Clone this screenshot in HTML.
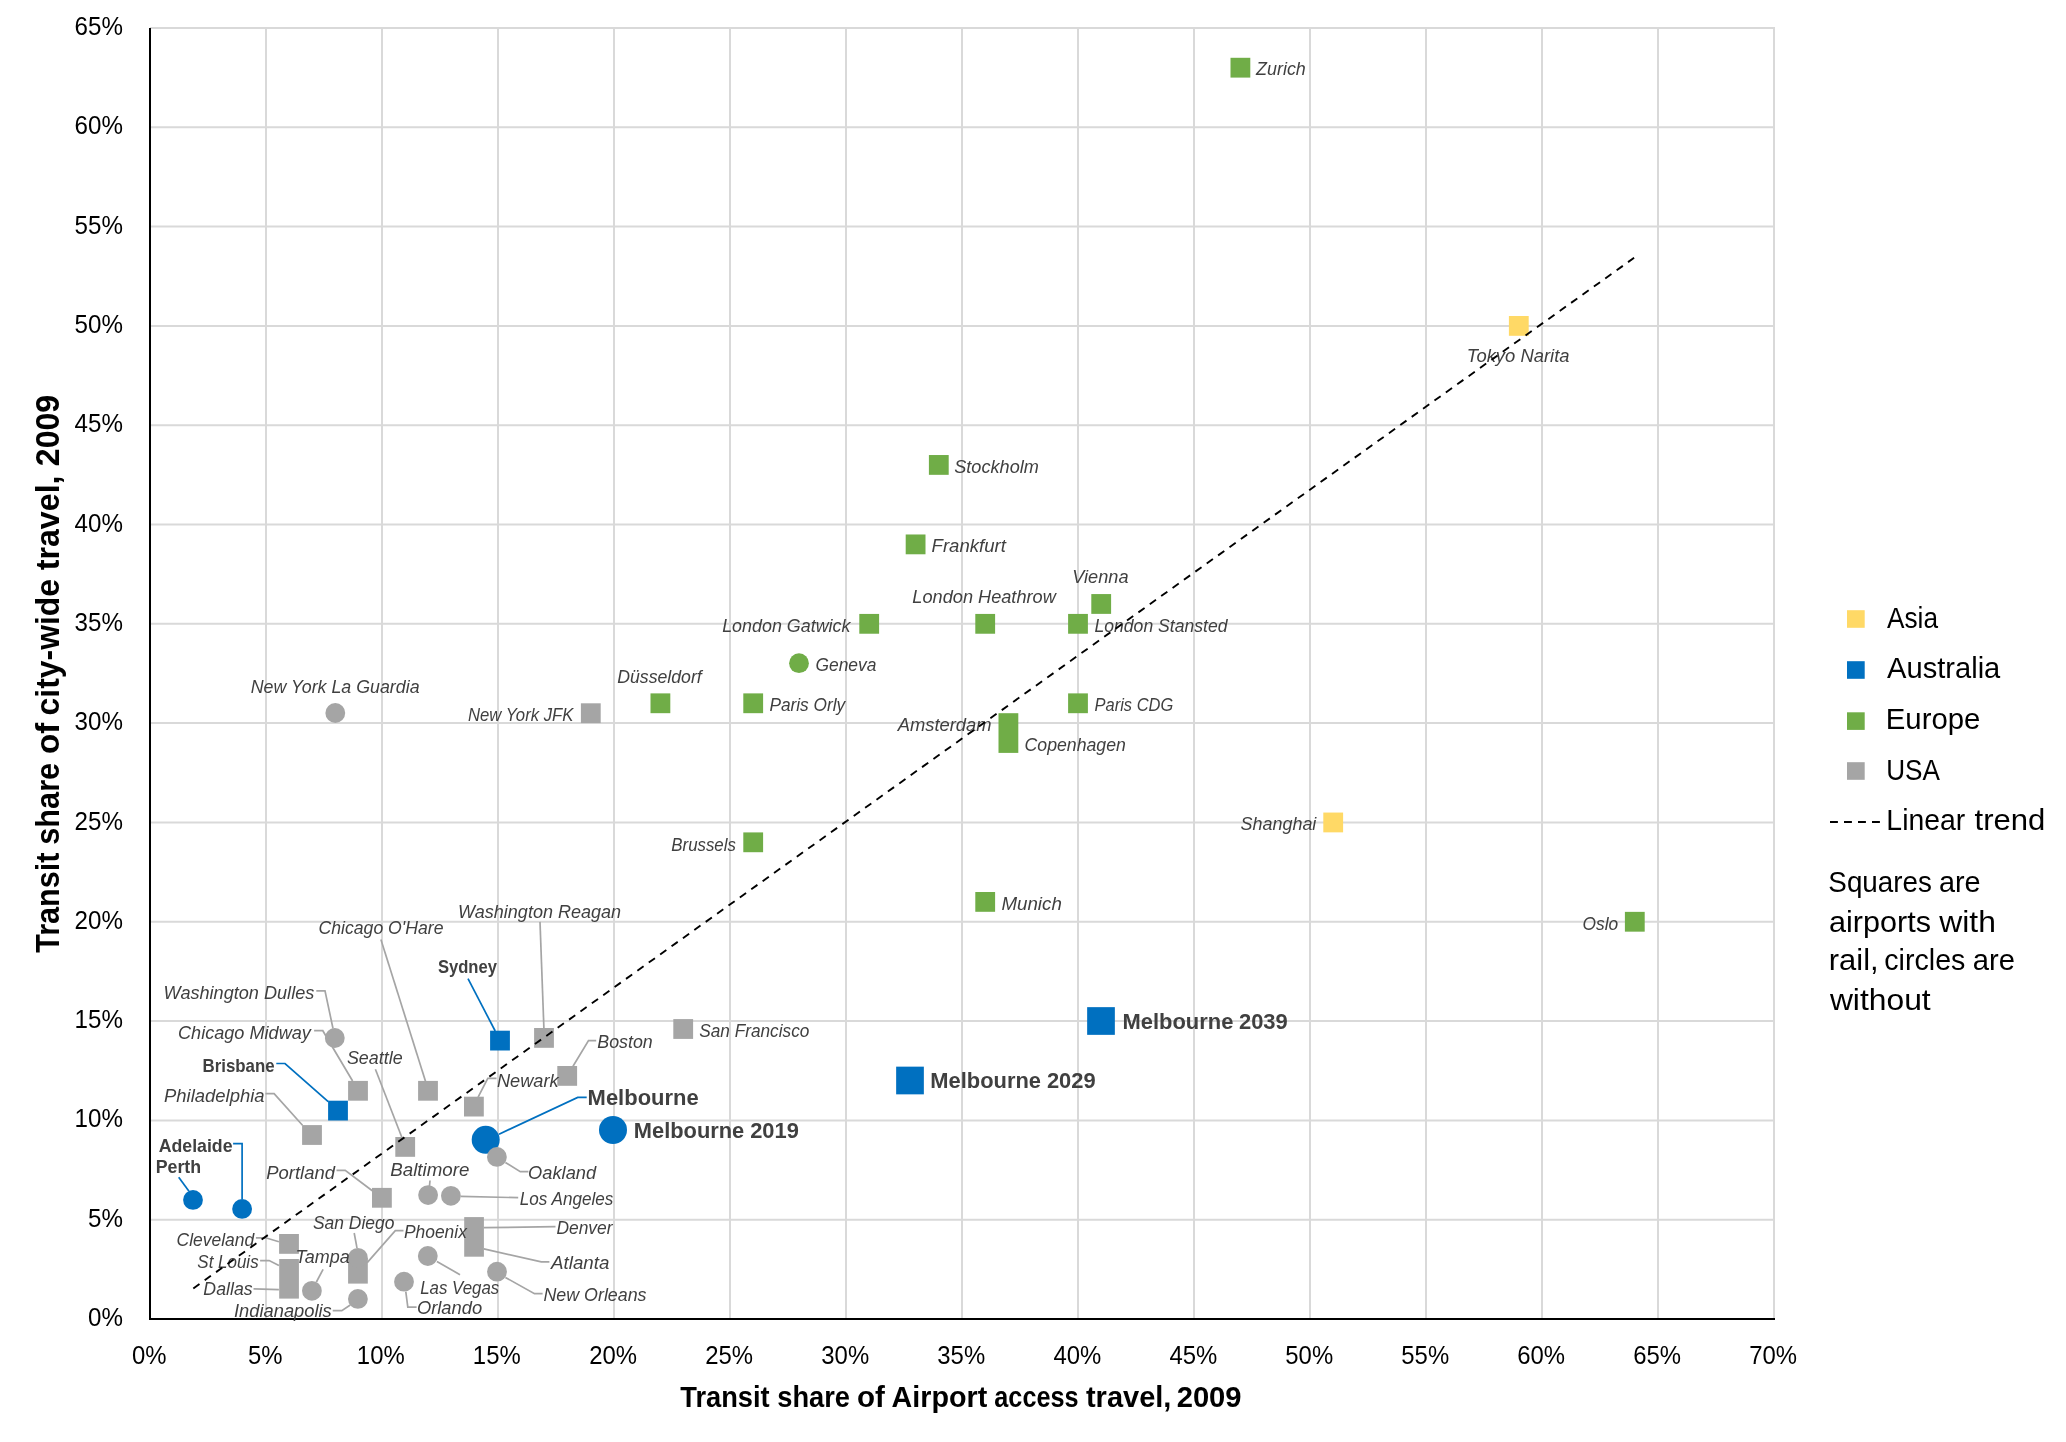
<!DOCTYPE html>
<html><head><meta charset="utf-8"><title>Airport transit share chart</title>
<style>html,body{margin:0;padding:0;background:#fff;}svg{display:block;will-change:transform;font-family:"Liberation Sans",sans-serif;}</style>
</head><body>
<svg width="2066" height="1442" viewBox="0 0 2066 1442">
<rect width="2066" height="1442" fill="#fff"/>
<path d="M266.0 27V1319 M382.0 27V1319 M498.0 27V1319 M614.0 27V1319 M730.0 27V1319 M846.0 27V1319 M962.0 27V1319 M1078.0 27V1319 M1194.0 27V1319 M1310.0 27V1319 M1426.0 27V1319 M1542.0 27V1319 M1658.0 27V1319 M1774.0 27V1319 M150 1219.7H1775 M150 1120.4H1775 M150 1021.1H1775 M150 921.8H1775 M150 822.5H1775 M150 723.1H1775 M150 623.8H1775 M150 524.5H1775 M150 425.2H1775 M150 325.9H1775 M150 226.6H1775 M150 127.3H1775 M150 28.0H1775" stroke="#D9D9D9" stroke-width="2" fill="none"/>
<path d="M150 28V1320M149 1319H1775" stroke="#000" stroke-width="2" fill="none"/>
<text transform="translate(88.01,1326.10) scale(0.9300,1)" font-size="26" fill="#000">0%</text>
<text transform="translate(88.01,1226.79) scale(0.9300,1)" font-size="26" fill="#000">5%</text>
<text transform="translate(74.53,1127.48) scale(0.9300,1)" font-size="26" fill="#000">10%</text>
<text transform="translate(74.53,1028.17) scale(0.9300,1)" font-size="26" fill="#000">15%</text>
<text transform="translate(74.53,928.86) scale(0.9300,1)" font-size="26" fill="#000">20%</text>
<text transform="translate(74.53,829.55) scale(0.9300,1)" font-size="26" fill="#000">25%</text>
<text transform="translate(74.53,730.24) scale(0.9300,1)" font-size="26" fill="#000">30%</text>
<text transform="translate(74.53,630.93) scale(0.9300,1)" font-size="26" fill="#000">35%</text>
<text transform="translate(74.53,531.62) scale(0.9300,1)" font-size="26" fill="#000">40%</text>
<text transform="translate(74.53,432.31) scale(0.9300,1)" font-size="26" fill="#000">45%</text>
<text transform="translate(74.53,333.00) scale(0.9300,1)" font-size="26" fill="#000">50%</text>
<text transform="translate(74.53,233.69) scale(0.9300,1)" font-size="26" fill="#000">55%</text>
<text transform="translate(74.53,134.38) scale(0.9300,1)" font-size="26" fill="#000">60%</text>
<text transform="translate(74.53,35.07) scale(0.9300,1)" font-size="26" fill="#000">65%</text>
<text transform="translate(131.96,1363.60) scale(0.9200,1)" font-size="26" fill="#000">0%</text>
<text transform="translate(247.96,1363.60) scale(0.9200,1)" font-size="26" fill="#000">5%</text>
<text transform="translate(356.87,1363.60) scale(0.9200,1)" font-size="26" fill="#000">10%</text>
<text transform="translate(472.87,1363.60) scale(0.9200,1)" font-size="26" fill="#000">15%</text>
<text transform="translate(589.17,1363.60) scale(0.9200,1)" font-size="26" fill="#000">20%</text>
<text transform="translate(705.17,1363.60) scale(0.9200,1)" font-size="26" fill="#000">25%</text>
<text transform="translate(821.32,1363.60) scale(0.9200,1)" font-size="26" fill="#000">30%</text>
<text transform="translate(937.32,1363.60) scale(0.9200,1)" font-size="26" fill="#000">35%</text>
<text transform="translate(1053.50,1363.60) scale(0.9200,1)" font-size="26" fill="#000">40%</text>
<text transform="translate(1169.50,1363.60) scale(0.9200,1)" font-size="26" fill="#000">45%</text>
<text transform="translate(1285.29,1363.60) scale(0.9200,1)" font-size="26" fill="#000">50%</text>
<text transform="translate(1401.29,1363.60) scale(0.9200,1)" font-size="26" fill="#000">55%</text>
<text transform="translate(1517.17,1363.60) scale(0.9200,1)" font-size="26" fill="#000">60%</text>
<text transform="translate(1633.17,1363.60) scale(0.9200,1)" font-size="26" fill="#000">65%</text>
<text transform="translate(1749.17,1363.60) scale(0.9200,1)" font-size="26" fill="#000">70%</text>
<rect x="1508.90" y="316.00" width="19.8" height="19.8" fill="#FFD966"/>
<rect x="1323.30" y="812.55" width="19.8" height="19.8" fill="#FFD966"/>
<rect x="490.10" y="1030.70" width="19.8" height="19.8" fill="#0070C0"/>
<rect x="328.10" y="1100.70" width="19.8" height="19.8" fill="#0070C0"/>
<circle cx="193.00" cy="1199.90" r="9.9" fill="#0070C0"/>
<circle cx="242.10" cy="1208.90" r="9.9" fill="#0070C0"/>
<circle cx="485.70" cy="1139.80" r="14" fill="#0070C0"/>
<circle cx="613.00" cy="1130.00" r="14" fill="#0070C0"/>
<rect x="896.15" y="1066.65" width="27.7" height="27.7" fill="#0070C0"/>
<rect x="1087.15" y="1007.15" width="27.7" height="27.7" fill="#0070C0"/>
<rect x="998.5" y="713.2" width="19.80" height="39.70" fill="#70AD47"/>
<rect x="1230.50" y="57.79" width="19.8" height="19.8" fill="#70AD47"/>
<rect x="928.90" y="455.03" width="19.8" height="19.8" fill="#70AD47"/>
<rect x="905.70" y="534.48" width="19.8" height="19.8" fill="#70AD47"/>
<rect x="1091.30" y="594.07" width="19.8" height="19.8" fill="#70AD47"/>
<rect x="975.30" y="613.93" width="19.8" height="19.8" fill="#70AD47"/>
<rect x="1068.10" y="613.93" width="19.8" height="19.8" fill="#70AD47"/>
<rect x="859.30" y="613.93" width="19.8" height="19.8" fill="#70AD47"/>
<rect x="650.50" y="693.38" width="19.8" height="19.8" fill="#70AD47"/>
<rect x="743.30" y="693.38" width="19.8" height="19.8" fill="#70AD47"/>
<rect x="1068.10" y="693.38" width="19.8" height="19.8" fill="#70AD47"/>
<rect x="743.30" y="832.41" width="19.8" height="19.8" fill="#70AD47"/>
<rect x="975.30" y="892.00" width="19.8" height="19.8" fill="#70AD47"/>
<rect x="1624.90" y="911.86" width="19.8" height="19.8" fill="#70AD47"/>
<circle cx="799.00" cy="663.20" r="9.9" fill="#70AD47"/>
<rect x="580.90" y="703.30" width="19.8" height="19.8" fill="#A5A5A5"/>
<rect x="673.30" y="1019.10" width="19.8" height="19.8" fill="#A5A5A5"/>
<rect x="534.10" y="1028.00" width="19.8" height="19.8" fill="#A5A5A5"/>
<rect x="348.10" y="1080.90" width="19.8" height="19.8" fill="#A5A5A5"/>
<rect x="418.10" y="1080.90" width="19.8" height="19.8" fill="#A5A5A5"/>
<rect x="557.30" y="1066.00" width="19.8" height="19.8" fill="#A5A5A5"/>
<rect x="464.00" y="1096.70" width="19.8" height="19.8" fill="#A5A5A5"/>
<rect x="395.30" y="1137.00" width="19.8" height="19.8" fill="#A5A5A5"/>
<rect x="302.10" y="1125.10" width="19.8" height="19.8" fill="#A5A5A5"/>
<rect x="372.00" y="1187.90" width="19.8" height="19.8" fill="#A5A5A5"/>
<rect x="279.10" y="1234.00" width="19.8" height="19.8" fill="#A5A5A5"/>
<rect x="464.2" y="1217.1" width="19.70" height="39.60" fill="#A5A5A5"/>
<rect x="279.2" y="1259" width="19.70" height="39.60" fill="#A5A5A5"/>
<rect x="348.1" y="1258" width="19.70" height="25.60" fill="#A5A5A5"/>
<circle cx="335.30" cy="713.00" r="9.9" fill="#A5A5A5"/>
<circle cx="334.80" cy="1038.00" r="9.9" fill="#A5A5A5"/>
<circle cx="496.90" cy="1156.90" r="9.9" fill="#A5A5A5"/>
<circle cx="428.10" cy="1195.10" r="9.9" fill="#A5A5A5"/>
<circle cx="450.90" cy="1195.80" r="9.9" fill="#A5A5A5"/>
<circle cx="427.80" cy="1256.00" r="9.9" fill="#A5A5A5"/>
<circle cx="404.00" cy="1281.70" r="9.9" fill="#A5A5A5"/>
<circle cx="497.00" cy="1271.70" r="9.9" fill="#A5A5A5"/>
<circle cx="311.90" cy="1290.80" r="9.9" fill="#A5A5A5"/>
<circle cx="357.90" cy="1257.80" r="9.9" fill="#A5A5A5"/>
<circle cx="357.90" cy="1298.90" r="9.9" fill="#A5A5A5"/>
<path d="M316.3 990.8 L325.0 990.8 L333.0 1028.5" stroke="#A5A5A5" stroke-width="1.7" fill="none"/>
<path d="M314.1 1030.7 L322.8 1030.7 L352.6 1081.0" stroke="#A5A5A5" stroke-width="1.7" fill="none"/>
<path d="M276.3 1063.5 L285.0 1063.5 L328.2 1101.6" stroke="#0070C0" stroke-width="1.7" fill="none"/>
<path d="M265.4 1093.6 L274.1 1093.6 L302.5 1125.2" stroke="#A5A5A5" stroke-width="1.7" fill="none"/>
<path d="M375.4 1069.2 L401.9 1137.5" stroke="#A5A5A5" stroke-width="1.7" fill="none"/>
<path d="M380.9 939.4 L425.5 1081.3" stroke="#A5A5A5" stroke-width="1.7" fill="none"/>
<path d="M540.0 921.9 L543.9 1028.2" stroke="#A5A5A5" stroke-width="1.7" fill="none"/>
<path d="M468.0 978.7 L495.2 1031.0" stroke="#0070C0" stroke-width="1.7" fill="none"/>
<path d="M596.2 1040.6 L588.5 1040.6 L573.0 1066.2" stroke="#A5A5A5" stroke-width="1.7" fill="none"/>
<path d="M496.5 1078.4 L487.8 1078.4 L478.1 1097.2" stroke="#A5A5A5" stroke-width="1.7" fill="none"/>
<path d="M586.7 1097.4 L577.7 1097.4 L499.0 1134.2" stroke="#0070C0" stroke-width="1.7" fill="none"/>
<path d="M505.4 1162.5 L520.3 1171.7 L528.4 1171.7" stroke="#A5A5A5" stroke-width="1.7" fill="none"/>
<path d="M336.5 1170.3 L345.2 1170.3 L372.3 1190.7" stroke="#A5A5A5" stroke-width="1.7" fill="none"/>
<path d="M430.0 1180.5 L429.5 1186.0" stroke="#A5A5A5" stroke-width="1.7" fill="none"/>
<path d="M460.6 1196.4 L518.2 1197.7" stroke="#A5A5A5" stroke-width="1.7" fill="none"/>
<path d="M483.8 1227.7 L555.5 1226.7" stroke="#A5A5A5" stroke-width="1.7" fill="none"/>
<path d="M483.8 1248.9 L541.3 1261.8 L549.4 1261.8" stroke="#A5A5A5" stroke-width="1.7" fill="none"/>
<path d="M436.9 1261.4 L460.0 1274.7" stroke="#A5A5A5" stroke-width="1.7" fill="none"/>
<path d="M405.8 1291.6 L407.8 1307.2 L416.6 1307.2" stroke="#A5A5A5" stroke-width="1.7" fill="none"/>
<path d="M505.4 1277.4 L534.5 1293.7 L542.6 1293.7" stroke="#A5A5A5" stroke-width="1.7" fill="none"/>
<path d="M403.5 1230.6 L395.3 1230.6 L367.2 1262.6" stroke="#A5A5A5" stroke-width="1.7" fill="none"/>
<path d="M354.2 1233.0 L357.0 1248.1" stroke="#A5A5A5" stroke-width="1.7" fill="none"/>
<path d="M255.9 1237.8 L265.6 1237.8 L278.9 1241.7" stroke="#A5A5A5" stroke-width="1.7" fill="none"/>
<path d="M260.1 1260.6 L269.2 1260.6 L278.9 1265.4" stroke="#A5A5A5" stroke-width="1.7" fill="none"/>
<path d="M253.5 1288.9 L278.9 1289.6" stroke="#A5A5A5" stroke-width="1.7" fill="none"/>
<path d="M323.1 1269.3 L316.4 1282.0" stroke="#A5A5A5" stroke-width="1.7" fill="none"/>
<path d="M332.7 1310.7 L341.8 1310.7 L350.3 1305.0" stroke="#A5A5A5" stroke-width="1.7" fill="none"/>
<path d="M233.1 1143.6 L242.1 1143.6 L242.1 1199.0" stroke="#0070C0" stroke-width="1.7" fill="none"/>
<path d="M178.7 1177.2 L188.8 1191.0" stroke="#0070C0" stroke-width="1.7" fill="none"/>
<text transform="translate(1256.06,74.90) scale(0.9951,1)" font-size="18" fill="#404040" font-style="italic">Zurich</text>
<text transform="translate(1466.84,361.60) scale(1.0240,1)" font-size="18" fill="#404040" font-style="italic">Tokyo Narita</text>
<text transform="translate(954.20,472.90) scale(1.0083,1)" font-size="18" fill="#404040" font-style="italic">Stockholm</text>
<text transform="translate(931.54,552.30) scale(1.0334,1)" font-size="18" fill="#404040" font-style="italic">Frankfurt</text>
<text transform="translate(1072.21,582.90) scale(1.0121,1)" font-size="18" fill="#404040" font-style="italic">Vienna</text>
<text transform="translate(912.35,602.70) scale(1.0104,1)" font-size="18" fill="#404040" font-style="italic">London Heathrow</text>
<text transform="translate(722.16,631.50) scale(0.9943,1)" font-size="18" fill="#404040" font-style="italic">London Gatwick</text>
<text transform="translate(1094.47,631.50) scale(0.9777,1)" font-size="18" fill="#404040" font-style="italic">London Stansted</text>
<text transform="translate(815.43,670.70) scale(0.9682,1)" font-size="18" fill="#404040" font-style="italic">Geneva</text>
<text transform="translate(617.17,683.10) scale(0.9842,1)" font-size="18" fill="#404040" font-style="italic">Düsseldorf</text>
<text transform="translate(769.38,710.70) scale(0.9599,1)" font-size="18" fill="#404040" font-style="italic">Paris Orly</text>
<text transform="translate(1094.51,711.00) scale(0.9163,1)" font-size="18" fill="#404040" font-style="italic">Paris CDG</text>
<text transform="translate(250.67,692.90) scale(0.9899,1)" font-size="18" fill="#404040" font-style="italic">New York La Guardia</text>
<text transform="translate(467.90,721.00) scale(0.9279,1)" font-size="18" fill="#404040" font-style="italic">New York JFK</text>
<text transform="translate(897.72,730.80) scale(1.0205,1)" font-size="18" fill="#404040" font-style="italic">Amsterdam</text>
<text transform="translate(1024.53,750.60) scale(0.9833,1)" font-size="18" fill="#404040" font-style="italic">Copenhagen</text>
<text transform="translate(1240.51,829.90) scale(0.9973,1)" font-size="18" fill="#404040" font-style="italic">Shanghai</text>
<text transform="translate(671.29,850.50) scale(0.9364,1)" font-size="18" fill="#404040" font-style="italic">Brussels</text>
<text transform="translate(1001.44,909.90) scale(1.0414,1)" font-size="18" fill="#404040" font-style="italic">Munich</text>
<text transform="translate(1582.55,929.80) scale(0.9645,1)" font-size="18" fill="#404040" font-style="italic">Oslo</text>
<text transform="translate(458.12,918.10) scale(1.0020,1)" font-size="18" fill="#404040" font-style="italic">Washington Reagan</text>
<text transform="translate(318.43,934.10) scale(0.9812,1)" font-size="18" fill="#404040" font-style="italic">Chicago O&#39;Hare</text>
<text transform="translate(163.61,998.90) scale(1.0073,1)" font-size="18" fill="#404040" font-style="italic">Washington Dulles</text>
<text transform="translate(178.00,1039.10) scale(1.0069,1)" font-size="18" fill="#404040" font-style="italic">Chicago Midway</text>
<text transform="translate(699.23,1036.70) scale(0.9580,1)" font-size="18" fill="#404040" font-style="italic">San Francisco</text>
<text transform="translate(597.27,1048.40) scale(0.9895,1)" font-size="18" fill="#404040" font-style="italic">Boston</text>
<text transform="translate(346.91,1063.90) scale(0.9945,1)" font-size="18" fill="#404040" font-style="italic">Seattle</text>
<text transform="translate(496.95,1086.50) scale(1.0114,1)" font-size="18" fill="#404040" font-style="italic">Newark</text>
<text transform="translate(163.95,1101.60) scale(1.0265,1)" font-size="18" fill="#404040" font-style="italic">Philadelphia</text>
<text transform="translate(266.25,1179.00) scale(1.0260,1)" font-size="18" fill="#404040" font-style="italic">Portland</text>
<text transform="translate(390.24,1175.50) scale(1.0423,1)" font-size="18" fill="#404040" font-style="italic">Baltimore</text>
<text transform="translate(528.10,1179.10) scale(1.0149,1)" font-size="18" fill="#404040" font-style="italic">Oakland</text>
<text transform="translate(519.79,1204.50) scale(0.9516,1)" font-size="18" fill="#404040" font-style="italic">Los Angeles</text>
<text transform="translate(312.92,1228.80) scale(0.9696,1)" font-size="18" fill="#404040" font-style="italic">San Diego</text>
<text transform="translate(403.88,1238.10) scale(0.9689,1)" font-size="18" fill="#404040" font-style="italic">Phoenix</text>
<text transform="translate(556.38,1234.00) scale(0.9674,1)" font-size="18" fill="#404040" font-style="italic">Denver</text>
<text transform="translate(176.54,1245.70) scale(0.9703,1)" font-size="18" fill="#404040" font-style="italic">Cleveland</text>
<text transform="translate(197.33,1267.50) scale(0.9428,1)" font-size="18" fill="#404040" font-style="italic">St Louis</text>
<text transform="translate(295.38,1263.20) scale(0.9989,1)" font-size="18" fill="#404040" font-style="italic">Tampa</text>
<text transform="translate(551.04,1269.30) scale(1.0419,1)" font-size="18" fill="#404040" font-style="italic">Atlanta</text>
<text transform="translate(203.37,1295.30) scale(0.9849,1)" font-size="18" fill="#404040" font-style="italic">Dallas</text>
<text transform="translate(420.19,1294.30) scale(0.9380,1)" font-size="18" fill="#404040" font-style="italic">Las Vegas</text>
<text transform="translate(543.46,1301.10) scale(0.9919,1)" font-size="18" fill="#404040" font-style="italic">New Orleans</text>
<text transform="translate(416.89,1314.00) scale(1.0191,1)" font-size="18" fill="#404040" font-style="italic">Orlando</text>
<text transform="translate(233.97,1317.10) scale(1.0190,1)" font-size="18" fill="#404040" font-style="italic">Indianapolis</text>
<text transform="translate(437.90,973.20) scale(0.9233,1)" font-size="18" fill="#404040" font-weight="bold">Sydney</text>
<text transform="translate(202.56,1071.80) scale(0.9362,1)" font-size="18" fill="#404040" font-weight="bold">Brisbane</text>
<text transform="translate(158.66,1151.80) scale(0.9854,1)" font-size="18" fill="#404040" font-weight="bold">Adelaide</text>
<text transform="translate(155.70,1172.80) scale(0.9887,1)" font-size="18" fill="#404040" font-weight="bold">Perth</text>
<text transform="translate(587.62,1105.00) scale(0.9990,1)" font-size="22" fill="#404040" font-weight="bold">Melbourne</text>
<text transform="translate(633.82,1137.80) scale(0.9935,1)" font-size="22" fill="#404040" font-weight="bold">Melbourne</text>
<text transform="translate(750.13,1137.80) scale(0.9946,1)" font-size="22" fill="#404040" font-weight="bold">2019</text>
<text transform="translate(930.32,1087.90) scale(0.9962,1)" font-size="22" fill="#404040" font-weight="bold">Melbourne</text>
<text transform="translate(1046.93,1087.90) scale(0.9967,1)" font-size="22" fill="#404040" font-weight="bold">2029</text>
<text transform="translate(1122.42,1028.80) scale(0.9981,1)" font-size="22" fill="#404040" font-weight="bold">Melbourne</text>
<text transform="translate(1238.93,1028.80) scale(0.9988,1)" font-size="22" fill="#404040" font-weight="bold">2039</text>
<path d="M193.3 1288.4L1634.1 257.8" stroke="#000" stroke-width="1.9" stroke-dasharray="7.6 6.4" fill="none"/>
<text transform="translate(680.33,1406.90) scale(0.8964,1)" font-size="30.4" fill="#000" font-weight="bold">Transit</text>
<text transform="translate(777.25,1406.90) scale(0.8970,1)" font-size="30.4" fill="#000" font-weight="bold">share</text>
<text transform="translate(857.02,1406.90) scale(0.9705,1)" font-size="30.4" fill="#000" font-weight="bold">of</text>
<text transform="translate(891.58,1406.90) scale(0.9444,1)" font-size="30.4" fill="#000" font-weight="bold">Airport</text>
<text transform="translate(994.34,1406.90) scale(0.8302,1)" font-size="30.4" fill="#000" font-weight="bold">access</text>
<text transform="translate(1085.94,1406.90) scale(0.9541,1)" font-size="30.4" fill="#000" font-weight="bold">travel,</text>
<text transform="translate(1176.68,1406.90) scale(0.9597,1)" font-size="30.4" fill="#000" font-weight="bold">2009</text>
<text transform="translate(59.2,952.81) rotate(-90) scale(0.9017,1)" font-size="33.9" font-weight="bold" fill="#000">Transit</text>
<text transform="translate(59.2,844.78) rotate(-90) scale(0.9065,1)" font-size="33.9" font-weight="bold" fill="#000">share</text>
<text transform="translate(59.2,754.03) rotate(-90) scale(0.9779,1)" font-size="33.9" font-weight="bold" fill="#000">of</text>
<text transform="translate(59.2,715.38) rotate(-90) scale(0.9407,1)" font-size="33.9" font-weight="bold" fill="#000">city-wide</text>
<text transform="translate(59.2,570.30) rotate(-90) scale(0.9503,1)" font-size="33.9" font-weight="bold" fill="#000">travel,</text>
<text transform="translate(59.2,466.23) rotate(-90) scale(0.9483,1)" font-size="33.9" font-weight="bold" fill="#000">2009</text>
<rect x="1847" y="610.2" width="17.7" height="17.6" fill="#FFD966"/>
<text transform="translate(1887.03,627.90) scale(0.8919,1)" font-size="29.4" fill="#000">Asia</text>
<rect x="1847" y="661.2" width="17.7" height="17.6" fill="#0070C0"/>
<text transform="translate(1887.03,678.40) scale(0.9907,1)" font-size="29.4" fill="#000">Australia</text>
<rect x="1847" y="712.3" width="17.7" height="17.6" fill="#70AD47"/>
<text transform="translate(1885.78,728.90) scale(0.9982,1)" font-size="29.4" fill="#000">Europe</text>
<rect x="1847" y="762.2" width="17.7" height="17.6" fill="#A5A5A5"/>
<text transform="translate(1886.17,779.70) scale(0.8893,1)" font-size="29.4" fill="#000">USA</text>
<path d="M1830 822H1880" stroke="#000" stroke-width="1.8" stroke-dasharray="7.9 6.1" fill="none"/>
<text transform="translate(1886.36,830.00) scale(0.9662,1)" font-size="29.4" fill="#000">Linear</text>
<text transform="translate(1974.53,830.00) scale(1.0575,1)" font-size="29.4" fill="#000">trend</text>
<text transform="translate(1828.35,891.70) scale(0.9462,1)" font-size="29.4" fill="#000">Squares</text>
<text transform="translate(1938.98,891.70) scale(0.9804,1)" font-size="29.4" fill="#000">are</text>
<text transform="translate(1829.00,931.60) scale(1.0410,1)" font-size="29.4" fill="#000">airports</text>
<text transform="translate(1939.28,931.60) scale(1.0833,1)" font-size="29.4" fill="#000">with</text>
<text transform="translate(1828.79,969.60) scale(1.0520,1)" font-size="29.4" fill="#000">rail,</text>
<text transform="translate(1884.28,969.60) scale(0.9741,1)" font-size="29.4" fill="#000">circles</text>
<text transform="translate(1972.86,969.60) scale(0.9929,1)" font-size="29.4" fill="#000">are</text>
<text transform="translate(1829.88,1009.60) scale(1.0831,1)" font-size="29.4" fill="#000">without</text>
</svg>
</body></html>
